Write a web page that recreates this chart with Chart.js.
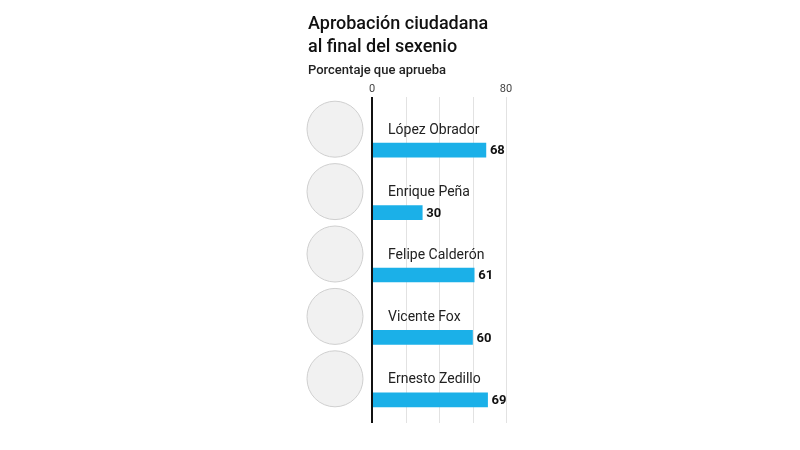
<!DOCTYPE html>
<html>
<head>
<meta charset="utf-8">
<script src="https://cdn.jsdelivr.net/npm/chart.js@4"></script>
<style>
  html, body { margin: 0; padding: 0; background: #fff; }
  #wrap { width: 800px; height: 450px; position: relative; }
</style>
</head>
<body>
<div id="wrap"><canvas id="c"></canvas></div>
<script>
var names = ['López Obrador', 'Enrique Peña', 'Felipe Calderón', 'Vicente Fox', 'Ernesto Zedillo'];
var approval = [68, 30, 61, 60, 69];
var gridValues = [20, 40, 60, 80];
var tickLabels = [0, 80];

var font = "Roboto, 'Open Sans', sans-serif";

// titles, photos placeholders, names, grid and value labels
var decor = {
  id: 'decor',
  beforeDatasetsDraw: function(chart) {
    var ctx = chart.ctx, x = chart.scales.x, y = chart.scales.y;
    ctx.save();
    ctx.fillStyle = '#111';
    ctx.textAlign = 'left';
    ctx.textBaseline = 'alphabetic';
    ctx.font = '500 18px ' + font;
    ctx.fillText('Aprobación ciudadana', 308, 29);
    ctx.fillText('al final del sexenio', 308, 52);
    ctx.font = '500 13px ' + font;
    ctx.fillStyle = '#222';
    ctx.fillText('Porcentaje que aprueba', 308, 74);

    ctx.font = '11px ' + font;
    ctx.fillStyle = '#444';
    ctx.textAlign = 'center';
    tickLabels.forEach(function(v) {
      ctx.fillText(String(v), x.getPixelForValue(v), 92);
    });

    ctx.strokeStyle = '#e2e2e2';
    ctx.lineWidth = 1;
    gridValues.forEach(function(v) {
      var px = Math.round(x.getPixelForValue(v)) + 0.5;
      ctx.beginPath(); ctx.moveTo(px, 97); ctx.lineTo(px, 423); ctx.stroke();
    });

    names.forEach(function(n, i) {
      var cy = y.getPixelForValue(i);
      // photo placeholder
      ctx.beginPath();
      ctx.arc(335, cy - 21, 28, 0, Math.PI * 2);
      ctx.fillStyle = '#f1f1f1';
      ctx.fill();
      ctx.strokeStyle = '#cfcfcf';
      ctx.lineWidth = 1;
      ctx.stroke();
      ctx.fillStyle = '#222';
      ctx.textAlign = 'left';
      ctx.textBaseline = 'middle';
      ctx.font = '14px ' + font;
      ctx.fillText(n, 388, cy - 20);
    });
    ctx.restore();
  },
  afterDatasetsDraw: function(chart) {
    var ctx = chart.ctx, x = chart.scales.x, y = chart.scales.y;
    ctx.save();
    ctx.strokeStyle = '#111';
    ctx.lineWidth = 2;
    var x0 = x.getPixelForValue(0);
    ctx.beginPath(); ctx.moveTo(x0, 97); ctx.lineTo(x0, 423); ctx.stroke();
    ctx.fillStyle = '#111';
    ctx.font = 'bold 13px ' + font;
    ctx.textBaseline = 'middle';
    ctx.textAlign = 'left';
    approval.forEach(function(v, i) {
      ctx.fillText(String(v), x.getPixelForValue(v) + 4, y.getPixelForValue(i) + 1);
    });
    ctx.restore();
  }
};

new Chart(document.getElementById('c'), {
  type: 'bar',
  data: {
    labels: names,
    datasets: [{
      data: approval,
      backgroundColor: '#1bb0e8',
      borderWidth: 0,
      barThickness: 14
    }]
  },
  options: {
    indexAxis: 'y',
    responsive: true,
    maintainAspectRatio: false,
    animation: false,
    layout: { padding: { left: 372, right: 294, top: 119, bottom: 19 } },
    scales: {
      x: { min: 0, max: 80, display: false },
      y: { display: false }
    },
    plugins: { legend: { display: false }, tooltip: { enabled: false } }
  },
  plugins: [decor]
});
</script>
</body>
</html>
